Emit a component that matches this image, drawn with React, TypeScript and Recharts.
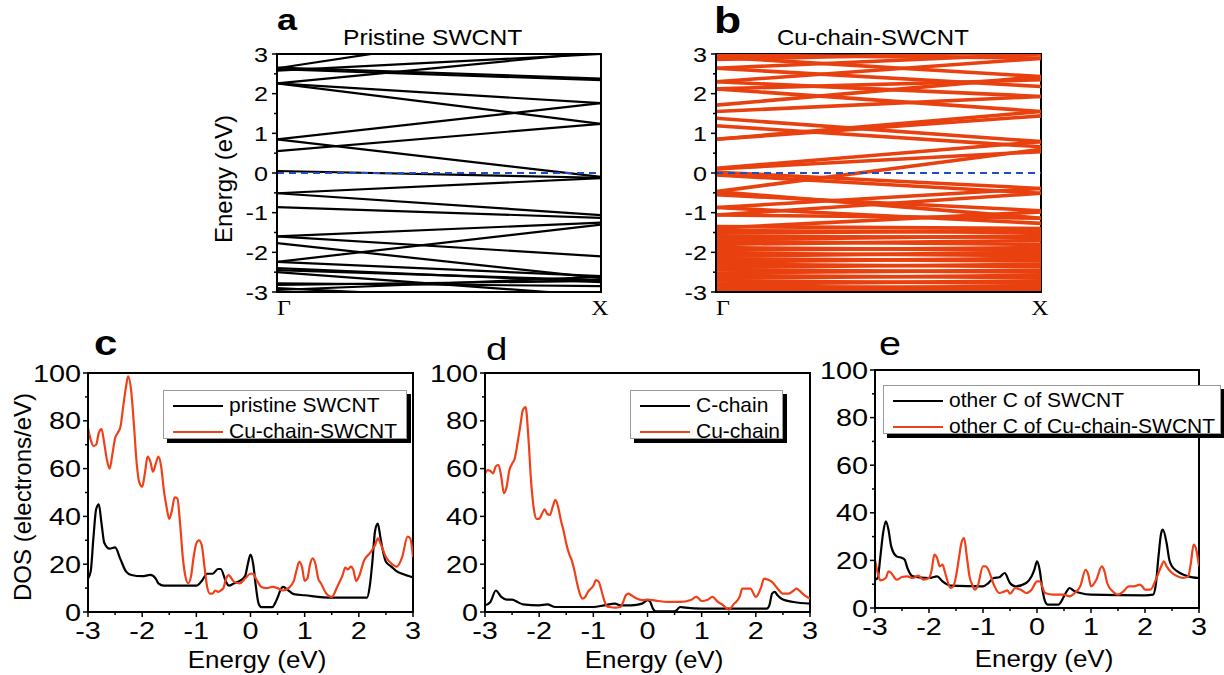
import React from 'react';
import { LineChart, Line, XAxis, YAxis, ReferenceLine, ReferenceArea } from 'recharts';

const SANS = '"Liberation Sans", Arial, Helvetica, sans-serif';
const SERIF = '"Liberation Serif", "Times New Roman", serif';
const SX = 1.2;
const RED_BAND = '#e8410f';
const RED_DOS = '#f0401a';
const BLUE = '#1d4fbf';

// band energies (eV) at Gamma and at X, one entry per band
const pristineGamma = [2.64, 2.58, 2.62, 2.66, 2.26, 2.26, 2.26, 0.85, 0.85, 0.55, 0.05,
  -0.51, -0.51, -0.86, -1.6, -1.6, -1.77, -2.24, -2.24, -2.4, -2.45, -2.5, -2.78, -2.82, -2.9, -2.95];
const pristineX = [3.88, 3.0, 2.34, 2.38, 3.05, 1.24, 1.76, 1.76, -0.1, 1.24, -0.12,
  -0.13, -1.06, -1.13, -1.25, -2.1, -2.65, -1.3, -2.6, -2.75, -2.7, -3.1, -2.85, -2.72, -3.3, -2.62];

const cuGamma = [2.97, 2.92, 2.86, 2.64, 2.64, 2.3, 2.3, 2.12, 2.12, 1.71, 1.55, 1.38, 1.19, 0.85, 0.85, 0.12, 0.1,
  0.02, -0.05, -0.47, -0.55, -0.47, -0.87, -1.06, -0.87, -1.06, -1.39, -1.35,
  -1.45, -1.52, -1.6, -1.68, -1.72, -1.8, -1.88, -1.95, -2.02, -2.1, -2.16, -2.24, -2.3, -2.38,
  -2.44, -2.52, -2.58, -2.66, -2.72, -2.8, -2.86, -2.92, -2.97];
const cuX = [2.9, 2.43, 3.05, 2.18, 3.0, 2.89, 1.93, 2.35, 1.55, 2.43, 1.93, 0.79, 0.66, 1.55, 1.44, 0.79, 0.54,
  -0.39, -0.51, 0.6, -0.95, -1.14, -0.39, -0.51, -1.27, -1.14, -0.98, -1.4,
  -1.5, -1.45, -1.62, -1.58, -1.8, -1.7, -1.95, -1.88, -2.08, -2.0, -2.22, -2.15, -2.36, -2.3,
  -2.5, -2.45, -2.64, -2.58, -2.78, -2.72, -2.9, -2.85, -2.96];

const kTicks = [0, 1];
const kLabels = ['Γ', 'X'];
const bandTicks = [-3, -2.5, -2, -1.5, -1, -0.5, 0, 0.5, 1, 1.5, 2, 2.5, 3];
const energyTicks = [-3, -2.5, -2, -1.5, -1, -0.5, 0, 0.5, 1, 1.5, 2, 2.5, 3];
const dosTicks = [0, 10, 20, 30, 40, 50, 60, 70, 80, 90, 100];

// DOS curves: [energy (eV), DOS (electrons/eV)]
const dosPristine = [[-3, 14], [-2.95, 17], [-2.9, 31], [-2.85, 43], [-2.8, 45], [-2.75, 37], [-2.7, 29], [-2.6, 26.5],
  [-2.5, 27], [-2.4, 22], [-2.3, 17], [-2.2, 15.5], [-2.0, 15], [-1.85, 15.5], [-1.75, 14], [-1.7, 12], [-1.6, 11],
  [-1.2, 11], [-1.0, 11], [-0.9, 13], [-0.8, 16], [-0.7, 16], [-0.6, 18], [-0.55, 18], [-0.45, 12.5], [-0.4, 11],
  [-0.3, 12], [-0.2, 13], [-0.1, 15], [-0.05, 20], [0, 24], [0.05, 20], [0.1, 10.5], [0.15, 3.5], [0.2, 2], [0.4, 2],
  [0.45, 3.5], [0.5, 6], [0.55, 9], [0.6, 10.5], [0.7, 9], [0.8, 7.5], [1.0, 7], [1.5, 6], [2.0, 6], [2.15, 6],
  [2.2, 10.5], [2.25, 21], [2.3, 34], [2.35, 37], [2.4, 31], [2.45, 25], [2.5, 21], [2.6, 19], [2.7, 17], [2.8, 16], [3.0, 14.5]];
const dosCuChainTube = [[-3, 77], [-2.95, 72], [-2.9, 69.5], [-2.85, 70], [-2.8, 75], [-2.75, 76.5], [-2.7, 70.6],
  [-2.65, 63.6], [-2.6, 60], [-2.55, 66], [-2.5, 72.7], [-2.45, 75], [-2.4, 77.6], [-2.35, 86], [-2.3, 94], [-2.26, 98.6],
  [-2.2, 92], [-2.15, 77.6], [-2.1, 62], [-2.05, 54], [-2.0, 52.4], [-1.95, 58], [-1.9, 65], [-1.85, 63], [-1.8, 58.7],
  [-1.75, 62], [-1.7, 65], [-1.65, 61], [-1.6, 51], [-1.55, 44], [-1.5, 39], [-1.45, 42.6], [-1.4, 48], [-1.35, 47.5],
  [-1.3, 37], [-1.25, 23], [-1.2, 14.7], [-1.15, 12], [-1.1, 14.7], [-1.05, 23], [-1.0, 28.7], [-0.95, 30], [-0.9, 28],
  [-0.85, 19], [-0.8, 10.5], [-0.75, 7.7], [-0.7, 7.7], [-0.65, 9], [-0.6, 8.4], [-0.55, 9], [-0.5, 10], [-0.45, 14],
  [-0.4, 15.4], [-0.35, 14], [-0.3, 12.6], [-0.2, 12], [-0.1, 14], [0, 16], [0.05, 16], [0.1, 14], [0.2, 10.5], [0.3, 10],
  [0.4, 10.5], [0.5, 10], [0.6, 9], [0.7, 10], [0.8, 13], [0.85, 17.5], [0.9, 21], [0.95, 19], [1.0, 13], [1.05, 14],
  [1.1, 20], [1.15, 22.4], [1.2, 20], [1.25, 14], [1.3, 12], [1.4, 7.7], [1.5, 6.3], [1.6, 10.5], [1.7, 15.4], [1.75, 18.6],
  [1.8, 17.8], [1.85, 19], [1.9, 17.5], [1.95, 13], [2.0, 14.7], [2.1, 21.7], [2.2, 24.5], [2.3, 28], [2.35, 30.8],
  [2.4, 28.7], [2.5, 23], [2.6, 20.3], [2.7, 19], [2.8, 23], [2.9, 31.5], [2.95, 30.8], [3.0, 23]];
const pdosCChain = [[-3, 2.8], [-2.9, 4.2], [-2.8, 9], [-2.7, 6.3], [-2.6, 5.2], [-2.5, 5.2], [-2.4, 4.2], [-2.3, 3.2],
  [-2.0, 2.8], [-1.85, 3.2], [-1.7, 2.1], [-1.0, 2.1], [-0.8, 2.8], [-0.6, 3.5], [-0.5, 2.8], [-0.3, 2.8], [-0.1, 3.5],
  [0, 5], [0.05, 4.2], [0.1, 1.4], [0.15, 0.3], [0.5, 0.3], [0.55, 1], [0.6, 2.1], [0.7, 1.8], [1.0, 1.4], [2.2, 1.4],
  [2.25, 2.8], [2.3, 7.7], [2.35, 8.4], [2.4, 7], [2.5, 5.2], [2.7, 4.2], [3.0, 3.5]];
const pdosCuChain = [[-3, 58], [-2.95, 59.4], [-2.9, 59], [-2.85, 58], [-2.8, 61], [-2.75, 61.5], [-2.7, 56.6], [-2.65, 49.7],
  [-2.6, 52.4], [-2.55, 59.4], [-2.5, 62], [-2.45, 64.3], [-2.4, 70.6], [-2.35, 77.6], [-2.3, 84.6], [-2.25, 85.7],
  [-2.2, 73.4], [-2.15, 55], [-2.1, 43.4], [-2.05, 39], [-2.0, 39], [-1.95, 41], [-1.9, 43], [-1.85, 41], [-1.8, 40.6],
  [-1.75, 44], [-1.7, 46.9], [-1.65, 44], [-1.6, 38.5], [-1.55, 34], [-1.5, 28.7], [-1.45, 24.5], [-1.4, 21.7],
  [-1.35, 17.5], [-1.3, 12], [-1.25, 7.7], [-1.2, 5.6], [-1.15, 6.3], [-1.1, 8.4], [-1.0, 11], [-0.95, 13.3], [-0.9, 12.6],
  [-0.85, 9], [-0.8, 5], [-0.75, 2.4], [-0.7, 2.1], [-0.6, 1.8], [-0.5, 2.1], [-0.45, 4.2], [-0.4, 7], [-0.35, 7.7],
  [-0.3, 7], [-0.2, 5.6], [-0.1, 5], [0, 5.2], [0.1, 5], [0.2, 4.6], [0.4, 4.2], [0.6, 4.2], [0.8, 5], [0.9, 6.3],
  [0.95, 5.6], [1.0, 4.6], [1.1, 5], [1.2, 6.3], [1.3, 4.2], [1.4, 2.8], [1.5, 1], [1.6, 3.5], [1.7, 6.3], [1.75, 9.8],
  [1.85, 9.8], [1.9, 9.8], [2.0, 6.3], [2.1, 10.5], [2.15, 14], [2.25, 13.3], [2.3, 12.6], [2.4, 9.8], [2.5, 7.7],
  [2.6, 7.7], [2.7, 9], [2.75, 9.8], [2.8, 9], [2.9, 7], [3.0, 5.6]];
const pdosOtherC = [[-3, 11.9], [-2.95, 12.6], [-2.9, 21.7], [-2.85, 31.5], [-2.8, 36.4], [-2.75, 32.9], [-2.7, 25.9],
  [-2.6, 21.7], [-2.5, 21], [-2.45, 20.3], [-2.4, 16.8], [-2.3, 13.3], [-2.0, 12.6], [-1.85, 13.3], [-1.75, 11.2],
  [-1.6, 9.4], [-1.0, 9.1], [-0.9, 10.5], [-0.8, 12.6], [-0.7, 12.9], [-0.6, 14.7], [-0.5, 10.5], [-0.4, 9.1], [-0.2, 10.5],
  [-0.1, 13.3], [-0.05, 16], [0, 19.6], [0.05, 16], [0.1, 7.7], [0.15, 2.8], [0.2, 1.4], [0.4, 1.4], [0.45, 2.8],
  [0.55, 7], [0.6, 8.4], [0.7, 7], [0.8, 6.3], [1.0, 5.6], [2.0, 5.3], [2.15, 5.6], [2.2, 9.8], [2.25, 21.7], [2.3, 31.5],
  [2.33, 32.9], [2.4, 27.3], [2.45, 20.3], [2.5, 17.5], [2.6, 15.4], [2.8, 13.3], [3.0, 12.6]];
const pdosOtherCCu = [[-3, 20.3], [-2.95, 14.7], [-2.9, 11.6], [-2.8, 12.6], [-2.75, 15.4], [-2.7, 14.7], [-2.6, 11.9],
  [-2.5, 13], [-2.4, 13.3], [-2.3, 12.6], [-2.2, 13.6], [-2.1, 11.9], [-2.0, 12.6], [-1.95, 16], [-1.9, 22.4], [-1.85, 21],
  [-1.8, 17.5], [-1.75, 18.2], [-1.7, 14.7], [-1.6, 8.4], [-1.55, 9.1], [-1.5, 13.3], [-1.45, 20.3], [-1.4, 27.3],
  [-1.35, 29.4], [-1.3, 21.7], [-1.25, 13.3], [-1.2, 9.8], [-1.15, 7.7], [-1.1, 9.1], [-1.0, 17.5], [-0.95, 17.5],
  [-0.9, 16], [-0.8, 9.8], [-0.7, 6.3], [-0.6, 7], [-0.55, 7.4], [-0.5, 6], [-0.4, 8.4], [-0.3, 7.7], [-0.2, 6.3],
  [-0.1, 7.7], [0, 11.2], [0.05, 11.2], [0.15, 6.3], [0.3, 5.6], [0.5, 5.6], [0.6, 4.9], [0.7, 6.3], [0.8, 9.1], [0.9, 16],
  [0.95, 14], [1.0, 9.1], [1.1, 11.9], [1.2, 17.5], [1.25, 15.4], [1.3, 10.5], [1.4, 7], [1.5, 5.6], [1.6, 7], [1.7, 9.1],
  [1.8, 9.1], [1.9, 9.8], [1.95, 9.1], [2.0, 7.7], [2.1, 7.7], [2.2, 11.9], [2.3, 17.5], [2.35, 19.6], [2.4, 17.5],
  [2.5, 14.7], [2.6, 13.3], [2.7, 12.6], [2.8, 13.3], [2.85, 18.9], [2.9, 26.6], [2.95, 24.5], [3.0, 17.5]];

const toPoints = (arr: number[][]) => arr.map(([e, v]) => ({ e, v }));

const axisStyle = { stroke: '#000', strokeWidth: 2 };

// custom ticks: major ticks get a label, minor ones only a short mark
const leftTick = (major: number, size: number, gap: number) => (p: any) => {
  const v = p.payload.value;
  const isMajor = Math.abs(v / major - Math.round(v / major)) < 1e-6;
  const len = isMajor ? 5 : 3;
  return (
    <g>
      <line x1={p.x} y1={p.y} x2={p.x - len} y2={p.y} stroke="#000" strokeWidth={1.5} />
      {isMajor ? (
        <text transform={`translate(${p.x - gap},${p.y + size * 0.36}) scale(${SX},1)`} textAnchor="end"
          fontFamily={SANS} fontSize={size} fill="#000">{v}</text>
      ) : null}
    </g>
  );
};

const bottomTick = (p: any) => {
  const v = p.payload.value;
  const isMajor = Math.abs(v - Math.round(v)) < 1e-6;
  const len = isMajor ? 5 : 3;
  return (
    <g>
      <line x1={p.x} y1={p.y} x2={p.x} y2={p.y + len} stroke="#000" strokeWidth={1.5} />
      {isMajor ? (
        <text transform={`translate(${p.x},${p.y + 27}) scale(${SX},1)`} textAnchor="middle"
          fontFamily={SANS} fontSize={24} fill="#000">{v}</text>
      ) : null}
    </g>
  );
};

const kTick = (p: any) => {
  const v = p.payload.value;
  const label = kLabels[kTicks.indexOf(v)];
  return (
    <text transform={`translate(${v === 0 ? p.x : p.x - 1},${p.y + 23}) scale(${SX},1)`}
      textAnchor={v === 0 ? 'start' : 'middle'} fontFamily={SERIF} fontSize={20} fill="#000">{label}</text>
  );
};

function BandPanel(props: { left: number; width: number; yw: number; gamma: number[]; xEnd: number[]; color: string; sw: number }) {
  const bands = props.gamma.map((g, i) => [{ k: 0, e: g }, { k: 1, e: props.xEnd[i] }]);
  return (
    <div style={{ position: 'absolute', left: props.left, top: 0 }}>
      <LineChart width={props.width} height={330} margin={{ top: 54, right: 19, left: 0, bottom: 8 }}>
        <XAxis dataKey="k" type="number" domain={[0, 1]} ticks={kTicks} interval={0} height={30}
          tickSize={0} tickMargin={0} tickLine={false} axisLine={axisStyle} tick={kTick} allowDataOverflow />
        <YAxis type="number" domain={[-3, 3]} ticks={bandTicks} interval={0} width={props.yw}
          tickSize={0} tickMargin={0} tickLine={false} axisLine={axisStyle} tick={leftTick(1, 21, 9)} allowDataOverflow />
        {bands.map((d, i) => (
          <Line key={i} data={d} dataKey="e" type="linear" stroke={props.color} strokeWidth={props.sw}
            dot={false} activeDot={false} isAnimationActive={false} />
        ))}
        <ReferenceLine y={0} stroke={BLUE} strokeWidth={2} strokeDasharray="7 5" />
        <ReferenceArea x1={0} x2={1} y1={-3} y2={3} fill="none" stroke="#000" strokeWidth={2} />
      </LineChart>
    </div>
  );
}

function DosPanel(props: { left: number; width: number; yw: number; mr: number; mt: number; mb: number; black: number[][]; red: number[][] }) {
  return (
    <div style={{ position: 'absolute', left: props.left, top: 330 }}>
      <LineChart width={props.width} height={345} margin={{ top: props.mt, right: props.mr, left: 0, bottom: props.mb }}>
        <XAxis dataKey="e" type="number" domain={[-3, 3]} ticks={energyTicks} interval={0} height={35}
          tickSize={0} tickMargin={0} tickLine={false} axisLine={axisStyle} tick={bottomTick} allowDataOverflow />
        <YAxis type="number" domain={[0, 100]} ticks={dosTicks} interval={0} width={props.yw}
          tickSize={0} tickMargin={0} tickLine={false} axisLine={axisStyle} tick={leftTick(20, 24, 7)} allowDataOverflow />
        <Line data={toPoints(props.black)} dataKey="v" type="monotone" stroke="#000" strokeWidth={2.2}
          dot={false} activeDot={false} isAnimationActive={false} />
        <Line data={toPoints(props.red)} dataKey="v" type="monotone" stroke={RED_DOS} strokeWidth={2.2}
          dot={false} activeDot={false} isAnimationActive={false} />
        <ReferenceArea x1={-3} x2={3} y1={0} y2={100} fill="none" stroke="#000" strokeWidth={2} />
      </LineChart>
    </div>
  );
}

function LegendBox(props: { left: number; top: number; width: number; rows: [string, string][] }) {
  return (
    <div style={{
      position: 'absolute', left: props.left, top: props.top, width: props.width, height: 49,
      background: '#fff', border: '1px solid #9a9a9a', boxShadow: '4px 4px 0 #000', boxSizing: 'border-box',
      fontFamily: SANS, fontSize: 21, color: '#000',
    }}>
      {props.rows.map(([label, color], i) => (
        <div key={label} style={{ position: 'absolute', left: 0, top: 2 + i * 26, height: 24, width: '100%' }}>
          <div style={{ position: 'absolute', left: 9, top: 12, width: 50, height: 2.4, background: color }} />
          <span style={{ position: 'absolute', left: 65, top: 0, lineHeight: '24px', whiteSpace: 'nowrap' }}>{label}</span>
        </div>
      ))}
    </div>
  );
}

const T = (p: { x: number; y: number; size: number; children: string; anchor?: string; weight?: string; sx?: number; rot?: boolean }) => (
  <text transform={`translate(${p.x},${p.y})${p.rot ? ' rotate(-90)' : ''} scale(${p.sx ?? SX},1)`}
    textAnchor={p.anchor ?? 'start'} fontFamily={SANS} fontSize={p.size} fontWeight={p.weight ?? 'normal'} fill="#000">
    {p.children}
  </text>
);

export default function App() {
  return (
    <div style={{ position: 'absolute', left: 0, top: 0, width: 1224, height: 675, background: '#fff', overflow: 'hidden' }}>
      <BandPanel left={200} width={420} yw={77} gamma={pristineGamma} xEnd={pristineX} color="#000" sw={2.2} />
      <BandPanel left={660} width={400} yw={56} gamma={cuGamma} xEnd={cuX} color={RED_BAND} sw={3.6} />
      <DosPanel left={0} width={420} yw={88} mr={7} mt={43} mb={28} black={dosPristine} red={dosCuChainTube} />
      <DosPanel left={420} width={400} yw={65} mr={10} mt={43} mb={28} black={pdosCChain} red={pdosCuChain} />
      <DosPanel left={810} width={414} yw={65} mr={25} mt={40} mb={32} black={pdosOtherC} red={pdosOtherCCu} />

      <LegendBox left={163} top={390} width={244} rows={[['pristine SWCNT', '#000'], ['Cu-chain-SWCNT', RED_DOS]]} />
      <LegendBox left={630} top={390} width={153} rows={[['C-chain', '#000'], ['Cu-chain', RED_DOS]]} />
      <LegendBox left={883} top={385} width={338} rows={[['other C of SWCNT', '#000'], ['other C of Cu-chain-SWCNT', RED_DOS]]} />

      <svg width={1224} height={675} style={{ position: 'absolute', left: 0, top: 0, pointerEvents: 'none' }}>
        <T x={277} y={30} size={30} weight="bold">a</T>
        <T x={714} y={33} size={37} weight="bold">b</T>
        <T x={94} y={355} size={35} weight="bold">c</T>
        <T x={486} y={360} size={32}>d</T>
        <T x={879} y={355} size={33}>e</T>
        <T x={343} y={45} size={22} sx={1.12}>Pristine SWCNT</T>
        <T x={777} y={45} size={22} sx={1.09}>Cu-chain-SWCNT</T>
        <T x={232} y={179} size={24} anchor="middle" sx={1} rot>Energy (eV)</T>
        <T x={31} y={497} size={24} anchor="middle" sx={1} rot>DOS (electrons/eV)</T>
        <T x={257} y={668} size={23} anchor="middle" sx={1.13}>Energy (eV)</T>
        <T x={654} y={668} size={23} anchor="middle" sx={1.13}>Energy (eV)</T>
        <T x={1044} y={667} size={23} anchor="middle" sx={1.13}>Energy (eV)</T>
      </svg>
    </div>
  );
}
